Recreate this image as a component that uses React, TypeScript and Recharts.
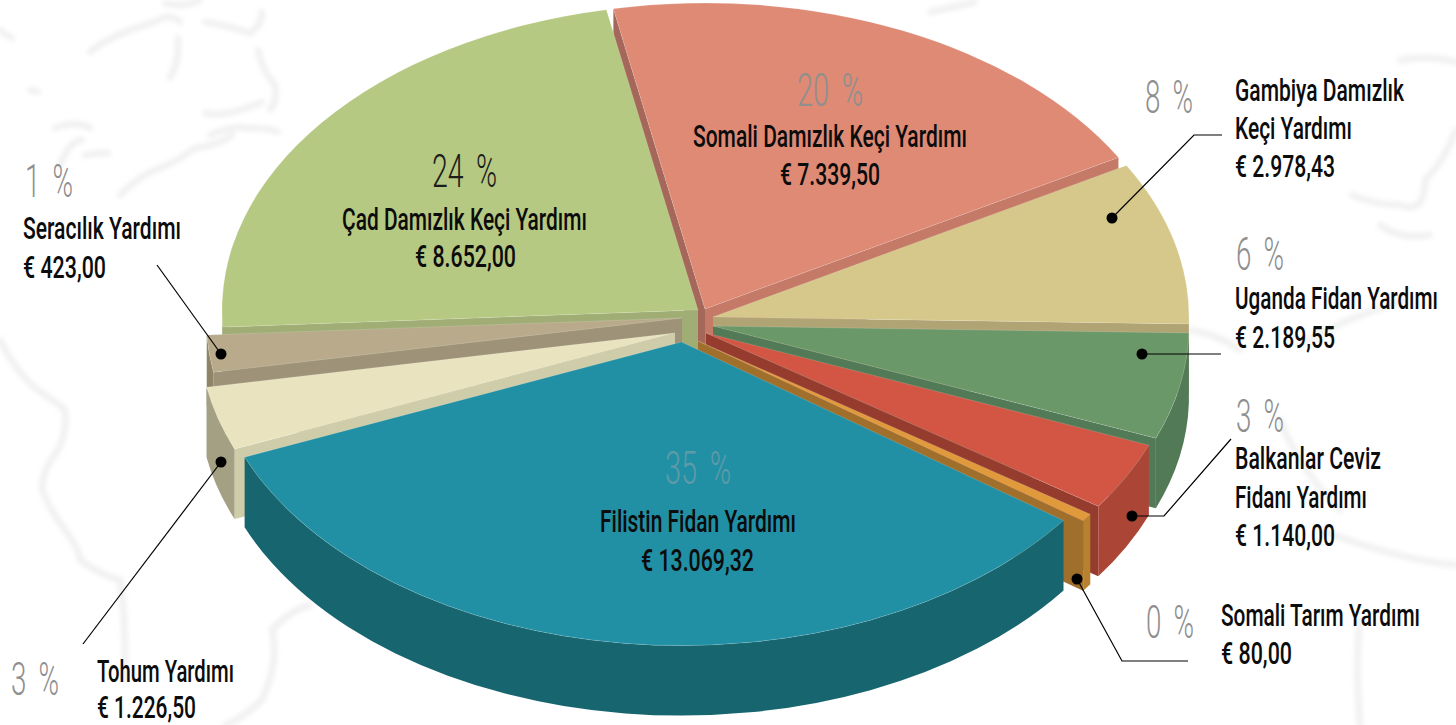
import { PieChart, Pie } from "recharts";

// amounts and percentages as printed on the chart
const categories = [
  "Filistin Fidan Yardımı",
  "Somali Tarım Yardımı",
  "Balkanlar Ceviz Fidanı Yardımı",
  "Uganda Fidan Yardımı",
  "Gambiya Damızlık Keçi Yardımı",
  "Somali Damızlık Keçi Yardımı",
  "Çad Damızlık Keçi Yardımı",
  "Seracılık Yardımı",
  "Tohum Yardımı",
];
const amounts = [13069.32, 80, 1140, 2189.55, 2978.43, 7339.5, 8652, 423, 1226.5];
const percents = [35, 0, 3, 6, 8, 20, 24, 1, 3];

// the wedges in this artwork aren't quite proportional to the amounts,
// so these are the shares (degrees of the ellipse)
const drawnShares = [121.7, 1.5, 13, 20.2, 31, 71.4, 82.1, 7, 12.1];

const table = categories.map((name, i) => ({
  name,
  amount: amounts[i],
  percent: percents[i],
  share: drawnShares[i],
}));

const CX = 700;
const CY = 325;
const RADIUS = 476;
const TILT = 306 / 476;
const DEPTH = 70;

// back to front
const paintOrder = [5, 6, 4, 7, 3, 8, 2, 1, 0];

// dx, dy = explode offset of the wedge tip, r = radius factor, sideA/sideB = wall under start/end edge
const sliceStyles = [
  { dx: -18.5, dy: 17, r: 0.992, top: "#2190a5", outer: "#17656f", sideA: "#17656f", sideB: "#17656f" },
  { dx: -2, dy: 16, r: 1, top: "#e09a3c", outer: "#b8812f", sideA: "#9f6f2b", sideB: "#9f6f2b" },
  { dx: 6, dy: 8, r: 1, top: "#d35543", outer: "#ab4636", sideA: "#963c2f", sideB: "#963c2f" },
  { dx: 13, dy: 1, r: 1, top: "#6b9869", outer: "#527a56", sideA: "#527a56", sideB: "#527a56" },
  { dx: 13, dy: -8, r: 1, top: "#d5c88a", outer: "#b0a374", sideA: "#b0a374", sideB: "#b0a374" },
  { dx: 5, dy: -16, r: 1, top: "#de8a75", outer: "#c57a68", sideA: "#c57a68", sideB: "#a5675a" },
  { dx: -2, dy: -15, r: 1, top: "#b6c982", outer: "#9bab71", sideA: "#9bab71", sideB: "#a0ae75" },
  { dx: -18, dy: -7, r: 1, top: "#b8aa8b", outer: "#8f8468", sideA: "#9e9278", sideB: "#9e9278" },
  { dx: -25, dy: 8, r: 1, top: "#e9e4bf", outer: "#a3a084", sideA: "#cfcca9", sideB: "#cfcca9" },
];

const rad = (deg: number) => (deg * Math.PI) / 180;

function Slice(props: any) {
  const { cx, cy, outerRadius, startAngle, endAngle, index } = props;
  const s = sliceStyles[index];
  const ox = cx + s.dx;
  const oy = cy + s.dy;
  const rx = outerRadius * s.r;
  const ry = outerRadius * s.r * TILT;
  const a0 = Math.min(startAngle, endAngle);
  const a1 = Math.max(startAngle, endAngle);
  const px = (a: number) => ox + rx * Math.cos(rad(a));
  const py = (a: number) => oy - ry * Math.sin(rad(a));
  const arc = (from: number, to: number, sweep: number) =>
    `A${rx} ${ry} 0 ${Math.abs(to - from) > 180 ? 1 : 0} ${sweep} ${px(to)} `;

  const topPath = `M${ox} ${oy} L${px(a0)} ${py(a0)} ${arc(a0, a1, 0)}${py(a1)} Z`;
  const edge = (a: number) =>
    `M${ox} ${oy} L${px(a)} ${py(a)} L${px(a)} ${py(a) + DEPTH} L${ox} ${oy + DEPTH} Z`;

  // the part of the rim that faces the viewer is the lower half of the ellipse
  const outerParts: string[] = [];
  for (const base of [-180, 180]) {
    const from = Math.max(a0, base);
    const to = Math.min(a1, base + 180);
    if (to > from) {
      outerParts.push(
        `M${px(from)} ${py(from)} ${arc(from, to, 0)}${py(to)} ` +
          `L${px(to)} ${py(to) + DEPTH} ${arc(to, from, 1)}${py(from) + DEPTH} Z`
      );
    }
  }

  return (
    <g>
      {Math.cos(rad(a0)) > 0 && <path d={edge(a0)} fill={s.sideA} />}
      {Math.cos(rad(a1)) < 0 && <path d={edge(a1)} fill={s.sideB} />}
      {outerParts.map((d, i) => (
        <path key={i} d={d} fill={s.outer} />
      ))}
      <path d={topPath} fill={s.top} stroke="rgba(255,255,255,0.22)" strokeWidth={0.7} />
    </g>
  );
}

const money = (v: number) =>
  "€ " + v.toLocaleString("tr-TR", { minimumFractionDigits: 2, maximumFractionDigits: 2 });

// pct = [x, baseline, width], lines = [text, x, baseline, width]
const labels = [
  { i: 0, pct: [665, 484, 66], color: "#5f9aa8", lines: [["Filistin Fidan Yardımı", 600, 532, 196], [money(amounts[0]), 641, 571, 113]] },
  { i: 1, pct: [1146, 638, 48], color: "#8f8f8f", lines: [["Somali Tarım Yardımı", 1221, 626, 199], [money(amounts[1]), 1221, 664, 71]] },
  { i: 2, pct: [1236, 432, 48], color: "#8f8f8f", lines: [["Balkanlar Ceviz", 1235, 469, 146], ["Fidanı Yardımı", 1235, 508, 132], [money(amounts[2]), 1235, 546, 100]] },
  { i: 3, pct: [1236, 270, 48], color: "#8f8f8f", lines: [["Uganda Fidan Yardımı", 1235, 309, 203], [money(amounts[3]), 1235, 348, 100]] },
  { i: 4, pct: [1145, 113, 48], color: "#8f8f8f", lines: [["Gambiya Damızlık", 1235, 101, 169], ["Keçi Yardımı", 1235, 139, 117], [money(amounts[4]), 1235, 177, 100]] },
  { i: 5, pct: [797, 106, 66], color: "#8f8f8f", lines: [["Somali Damızlık Keçi Yardımı", 693, 147, 274], [money(amounts[5]), 780, 185, 100]] },
  { i: 6, pct: [432, 187, 65], color: "#1d1d1d", lines: [["Çad Damızlık Keçi Yardımı", 342, 230, 245], [money(amounts[6]), 415, 267, 101]] },
  { i: 7, pct: [25, 197, 48], color: "#8f8f8f", lines: [["Seracılık Yardımı", 23, 239, 158], [money(amounts[7]), 23, 278, 83]] },
  { i: 8, pct: [11, 695, 48], color: "#8f8f8f", lines: [["Tohum Yardımı", 97, 682, 137], [money(amounts[8]), 97, 717.5, 99]] },
];

const leaders = [
  "1112,218 1194,135 1222,135",
  "1142,354 1221,354",
  "1132,516 1164,516 1231,439",
  "1077,579 1122,661 1188,661",
  "221,354 157,265",
  "221,462 83,644",
];

// embossed world map behind the chart, very faint
const mapStrokes = [
  "M90 52 Q110 35 155 22 Q170 12 180 22",
  "M205 22 Q225 25 250 33 Q262 25 262 12",
  "M165 3 Q185 8 200 0",
  "M178 38 Q180 60 170 78",
  "M258 50 Q262 70 275 85 Q278 100 270 110",
  "M205 113 Q225 118 262 102",
  "M210 135 Q235 125 245 128 Q270 128 278 132",
  "M120 195 Q140 175 160 168 Q180 160 195 148 Q220 145 232 135",
  "M55 128 Q75 120 90 128",
  "M60 165 Q70 140 82 140",
  "M85 155 Q100 153 108 153",
  "M0 340 Q20 380 45 395 Q60 405 65 410 Q68 430 58 450 Q42 470 42 490 Q50 510 65 530 Q80 550 80 560 Q100 575 120 580 Q126 620 125 680",
  "M225 725 Q240 720 262 700 Q280 660 272 630 Q290 610 310 605",
  "M1400 60 Q1430 55 1456 62",
  "M1352 195 Q1375 205 1400 205 Q1425 215 1425 180 Q1445 160 1456 130",
  "M1380 225 Q1400 240 1430 235",
  "M1190 330 Q1220 335 1240 350",
  "M1300 345 Q1340 320 1405 300",
  "M1280 420 Q1300 470 1340 510",
  "M1320 530 Q1400 560 1456 565",
  "M1360 620 Q1355 660 1360 725",
  "M930 12 Q950 8 975 2",
  "M0 30 Q5 35 12 38",
  "M30 90 L38 92",
];

const NAME_SQUEEZE = 0.76;
const PCT_SQUEEZE = 0.8;

// squeezed with a transform so the type reads as the chart's condensed face
function Squeezed({ x, y, width, squeeze, children, ...rest }: any) {
  return (
    <g transform={`translate(${x} ${y}) scale(${squeeze} 1)`}>
      <text x={0} y={0} textLength={width / squeeze} lengthAdjust="spacingAndGlyphs" {...rest}>
        {children}
      </text>
    </g>
  );
}

export default function App() {
  return (
    <div style={{ position: "absolute", left: 0, top: 0, width: 1456, height: 725, background: "#fff", overflow: "hidden" }}>
      <svg width={1456} height={725} style={{ position: "absolute", left: 0, top: 0 }}>
        <filter id="soft">
          <feGaussianBlur stdDeviation="2.5" />
        </filter>
        <g filter="url(#soft)" fill="none" stroke="#efefef" strokeWidth={6} strokeLinecap="round">
          {mapStrokes.map((d, i) => (
            <path key={i} d={d} />
          ))}
        </g>
      </svg>

      <div style={{ position: "absolute", left: 0, top: 0 }}>
        <PieChart width={1456} height={725} margin={{ top: 0, right: 0, bottom: 0, left: 0 }}>
          {paintOrder.map((idx) => (
            <Pie
              key={idx}
              data={table}
              dataKey="share"
              nameKey="name"
              cx={CX}
              cy={CY}
              outerRadius={RADIUS}
              startAngle={-157.7}
              endAngle={202.3}
              stroke="none"
              isAnimationActive={false}
              shape={(p: any) => (p.index === idx ? <Slice {...p} /> : <g />)}
            />
          ))}
        </PieChart>
      </div>

      <svg width={1456} height={725} style={{ position: "absolute", left: 0, top: 0 }}>
        {leaders.map((pts) => {
          const [dotX, dotY] = pts.split(" ")[0].split(",");
          return (
            <g key={pts}>
              <polyline points={pts} fill="none" stroke="#000" strokeWidth={1.2} />
              <circle cx={+dotX} cy={+dotY} r={5.5} fill="#000" />
            </g>
          );
        })}
        {labels.map((l) => (
          <g key={l.i}>
            <Squeezed
              x={l.pct[0]}
              y={l.pct[1]}
              width={l.pct[2]}
              squeeze={PCT_SQUEEZE}
              fontFamily="Roboto, sans-serif"
              fontWeight={300}
              fontSize={47}
              wordSpacing={9}
              fill={l.color}
            >
              {table[l.i].percent + " %"}
            </Squeezed>
            {l.lines.map((t) => (
              <Squeezed
                key={t[0] as string}
                x={t[1]}
                y={t[2]}
                width={t[3]}
                squeeze={NAME_SQUEEZE}
                fontFamily="Roboto, sans-serif"
                fontWeight={500}
                fontSize={31}
                fill="#0c0c0c"
              >
                {t[0]}
              </Squeezed>
            ))}
          </g>
        ))}
      </svg>
    </div>
  );
}
